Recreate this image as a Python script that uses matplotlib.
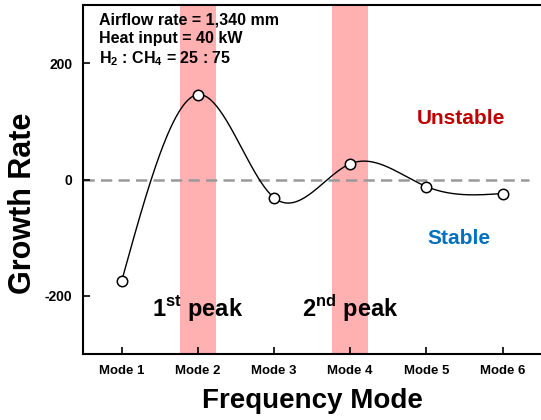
import numpy as np
import matplotlib
matplotlib.use("Agg")
import matplotlib.pyplot as plt

plt.rcParams['font.family'] = ['Liberation Sans', 'DejaVu Sans']
plt.rcParams['mathtext.fontset'] = 'custom'
plt.rcParams['mathtext.rm'] = 'Liberation Sans'
plt.rcParams['mathtext.bf'] = 'Liberation Sans:bold'

modes = ["Mode 1", "Mode 2", "Mode 3", "Mode 4", "Mode 5", "Mode 6"]
growth = [-175, 146, -31, 27, -12, -24]
peak_modes = [2, 4]
peak_labels = [r"1$^{\mathbf{st}}$ peak", r"2$^{\mathbf{nd}}$ peak"]
yticks = [-200, 0, 200]


def natural_spline(x, y, xs):
    x = np.asarray(x, float)
    y = np.asarray(y, float)
    n = len(x)
    h = np.diff(x)
    A = np.zeros((n, n))
    b = np.zeros(n)
    A[0, 0] = 1
    A[-1, -1] = 1
    for i in range(1, n - 1):
        A[i, i - 1] = h[i - 1]
        A[i, i] = 2 * (h[i - 1] + h[i])
        A[i, i + 1] = h[i]
        b[i] = 6 * ((y[i + 1] - y[i]) / h[i] - (y[i] - y[i - 1]) / h[i - 1])
    M = np.linalg.solve(A, b)
    out = np.empty_like(xs)
    for k, t in enumerate(xs):
        i = min(max(np.searchsorted(x, t) - 1, 0), n - 2)
        a, c = x[i + 1] - t, t - x[i]
        out[k] = (M[i] * a**3 + M[i + 1] * c**3) / (6 * h[i]) \
            + (y[i] / h[i] - M[i] * h[i] / 6) * a \
            + (y[i + 1] / h[i] - M[i + 1] * h[i] / 6) * c
    return out


xpos = np.arange(1, len(modes) + 1)
xs = np.linspace(1, len(modes), 400)
ys = natural_spline(xpos, growth, xs)

fig = plt.figure(figsize=(5.41, 4.20), dpi=100)
ax = fig.add_axes([0.1543, 0.157, 0.845, 0.831])

for m in peak_modes:
    ax.axvspan(m - 0.235, m + 0.235, color='#ffb0b0', lw=0, zorder=0)

ax.axhline(0, xmin=0, xmax=0.975, color='#999999', lw=1.8, dashes=(4.5, 2.5), zorder=1)
ax.plot(xs, ys, color='black', lw=1.0, zorder=2)
ax.plot(xpos, growth, 'o', ms=7.5, mfc='white', mec='black', mew=1.1, zorder=3)

ax.set_xlim(0.5, 6.5)
ax.set_ylim(-300, 300)
ax.set_xticks(xpos)
ax.set_xticklabels(modes, fontsize=9.5, fontweight='bold')
ax.set_yticks(yticks)
ax.set_yticklabels([str(v) for v in yticks], fontsize=10, fontweight='bold')
ax.tick_params(direction='in', length=5, width=1.2, pad=8)
for s in ['left', 'bottom', 'top']:
    ax.spines[s].set_linewidth(1.5)
ax.spines['right'].set_visible(False)

ax.set_xlabel("Frequency Mode", fontsize=20, fontweight='bold', labelpad=8)
ax.set_ylabel("Growth Rate", fontsize=22, fontweight='bold')
ax.yaxis.set_label_coords(-0.10, 0.433)

ax.text(0.035, 0.980, "Airflow rate = 1,340 mm", transform=ax.transAxes,
        fontsize=11.5, fontweight='bold', va='top')
ax.text(0.035, 0.926, "Heat input = 40 kW", transform=ax.transAxes,
        fontsize=11.5, fontweight='bold', va='top')
ax.text(0.035, 0.872, r"H$_\mathbf{2}$ : CH$_\mathbf{4}$ = 25 : 75", transform=ax.transAxes,
        fontsize=11.5, fontweight='bold', va='top')

ax.text(5.45, 105, "Unstable", color='#c00000', fontsize=15, fontweight='bold',
        ha='center', va='center')
ax.text(5.43, -101, "Stable", color='#0070c0', fontsize=15, fontweight='bold',
        ha='center', va='center')

for m, lab in zip(peak_modes, peak_labels):
    ax.text(m, -221, lab, fontsize=17, fontweight='bold', ha='center', va='center')

fig.savefig("out.png", dpi=100)
